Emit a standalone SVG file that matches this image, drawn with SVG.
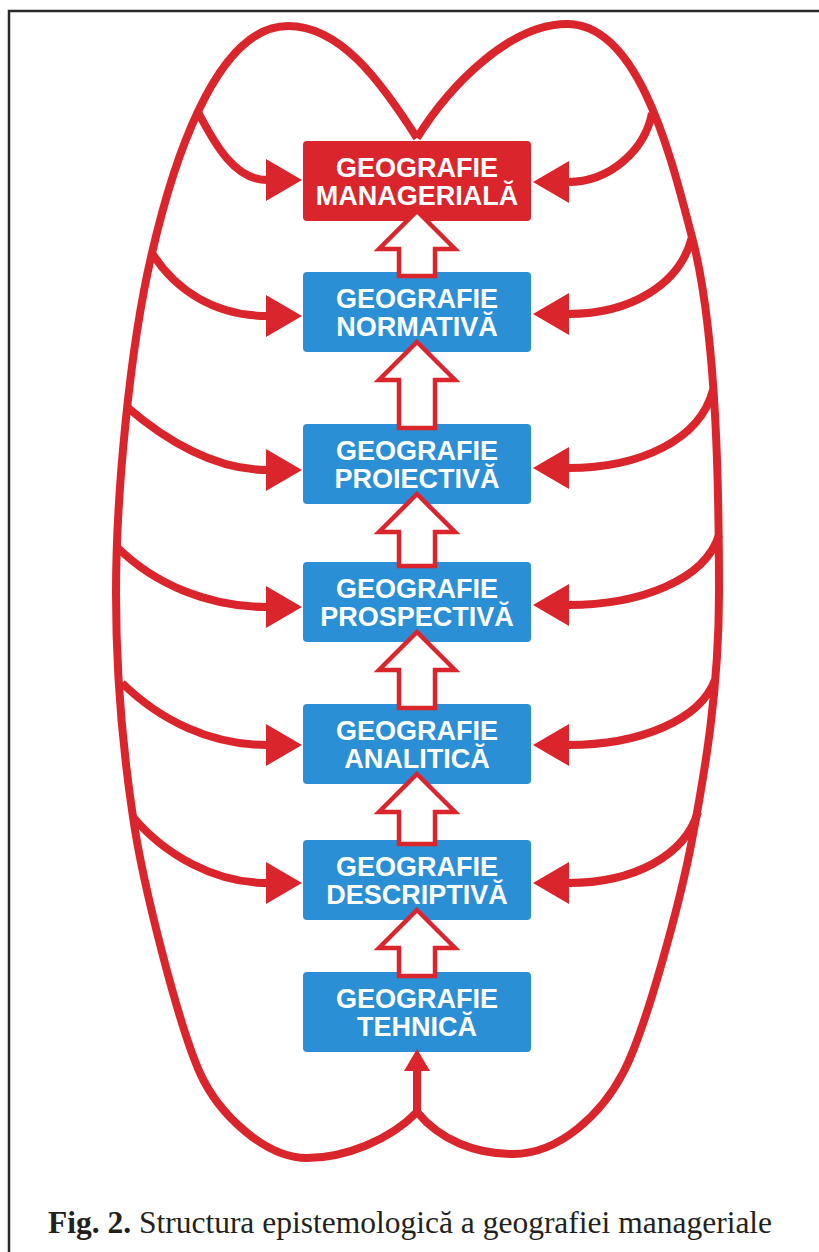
<svg xmlns="http://www.w3.org/2000/svg" width="819" height="1252" viewBox="0 0 819 1252">
<style>
.frame{fill:none;stroke:#2a2a2a;stroke-width:2.5}
.box{fill:#2b8fd5}
.boxr{fill:#d9252b}
.lbl{font-family:"Liberation Sans",Arial,sans-serif;font-weight:bold;font-size:27px;fill:#ffffff;text-anchor:middle}
.loop{fill:none;stroke:#d9252b;stroke-width:8;stroke-linejoin:round}
.br{fill:none;stroke:#d9252b;stroke-width:8;marker-end:url(#head)}
.hollow{fill:#ffffff;stroke:#d9252b;stroke-width:4.5;stroke-linejoin:miter}
.cap{font-family:"Liberation Serif","Times New Roman",serif;font-size:31.5px;fill:#231f20;text-anchor:middle}
</style>
<defs>
<marker id="head" markerUnits="userSpaceOnUse" viewBox="0 0 36 42" refX="1" refY="21" markerWidth="36" markerHeight="42" orient="auto">
<path d="M0,0 L36,21 L0,42 Z" fill="#d9252b"/>
</marker>
<marker id="headS" markerUnits="userSpaceOnUse" viewBox="0 0 22 26" refX="1" refY="13" markerWidth="22" markerHeight="26" orient="auto">
<path d="M0,0 L22,13 L0,26 Z" fill="#d9252b"/>
</marker>
</defs>
<rect width="819" height="1252" fill="#ffffff"/>
<path class="frame" d="M9,1252 V11 H819"/>

<g id="nodes">
<g id="n-manageriala"><rect class="boxr" x="303" y="141" width="228" height="80" rx="4"/><text class="lbl" x="417" y="177">GEOGRAFIE</text><text class="lbl" x="417" y="205">MANAGERIALĂ</text></g>
<g id="n-normativa"><rect class="box" x="303" y="272" width="228" height="80" rx="4"/><text class="lbl" x="417" y="308">GEOGRAFIE</text><text class="lbl" x="417" y="336">NORMATIVĂ</text></g>
<g id="n-proiectiva"><rect class="box" x="303" y="424" width="228" height="80" rx="4"/><text class="lbl" x="417" y="460">GEOGRAFIE</text><text class="lbl" x="417" y="488">PROIECTIVĂ</text></g>
<g id="n-prospectiva"><rect class="box" x="303" y="562" width="228" height="80" rx="4"/><text class="lbl" x="417" y="598">GEOGRAFIE</text><text class="lbl" x="417" y="626">PROSPECTIVĂ</text></g>
<g id="n-analitica"><rect class="box" x="303" y="704" width="228" height="80" rx="4"/><text class="lbl" x="417" y="740">GEOGRAFIE</text><text class="lbl" x="417" y="768">ANALITICĂ</text></g>
<g id="n-descriptiva"><rect class="box" x="303" y="840" width="228" height="80" rx="4"/><text class="lbl" x="417" y="876">GEOGRAFIE</text><text class="lbl" x="417" y="904">DESCRIPTIVĂ</text></g>
<g id="n-tehnica"><rect class="box" x="303" y="972" width="228" height="80" rx="4"/><text class="lbl" x="417" y="1008">GEOGRAFIE</text><text class="lbl" x="417" y="1036">TEHNICĂ</text></g>
</g>

<g id="connectors">
<path class="loop" d="M417,138 C380,80 340,26 288,26 C213,26 170,175 152,253 C129,350 116,500 116,593 C116,680 124,757 133,817 C143,887 179.5,1027.5 200,1073 C218.5,1114 265,1158 307,1158 C345,1158 390,1140 417,1112"/>
<path class="loop" d="M417,138 C450,85 510,24 567,24 C640,24 671.5,159.6 692,237 C717.6,333.7 719,500 719,593 C719,690 705,771 692,840 C680.8,899 646.4,1028.8 623,1073 C602,1113 560,1154 513,1154 C475,1154 440,1140 417,1112"/>
<path d="M417,1112 V1070" fill="none" stroke="#d9252b" stroke-width="8" marker-end="url(#headS)"/>

<path class="br" d="M197,110 C215,145 235,180 267,180"/>
<path class="br" d="M152,253 C175,290 215,316 267,316"/>
<path class="br" d="M127,407 C165,440 215,470 267,470"/>
<path class="br" d="M117,547 C155,585 210,607 267,607"/>
<path class="br" d="M122,683 C160,720 210,745 267,745"/>
<path class="br" d="M133,817 C165,855 215,883 267,883"/>

<path class="br" d="M652,113 C645,150 610,182 568,182"/>
<path class="br" d="M692,237 C680,285 630,314 568,314"/>
<path class="br" d="M713,390 C700,440 640,468 568,468"/>
<path class="br" d="M719,535 C705,580 640,605 568,605"/>
<path class="br" d="M715,680 C700,720 640,745 568,745"/>
<path class="br" d="M698,812 C685,855 635,883 568,883"/>

<polygon class="hollow" points="417,211 455,249 435,249 435,276 399,276 399,249 379,249"/>
<polygon class="hollow" points="417,342 455,380 435,380 435,428 399,428 399,380 379,380"/>
<polygon class="hollow" points="417,494 455,532 435,532 435,566 399,566 399,532 379,532"/>
<polygon class="hollow" points="417,632 455,670 435,670 435,708 399,708 399,670 379,670"/>
<polygon class="hollow" points="417,774 455,812 435,812 435,844 399,844 399,812 379,812"/>
<polygon class="hollow" points="417,910 455,948 435,948 435,976 399,976 399,948 379,948"/>
</g>

<text class="cap" x="410" y="1233"><tspan font-weight="bold">Fig. 2.</tspan> Structura epistemologică a geografiei manageriale</text>
</svg>
